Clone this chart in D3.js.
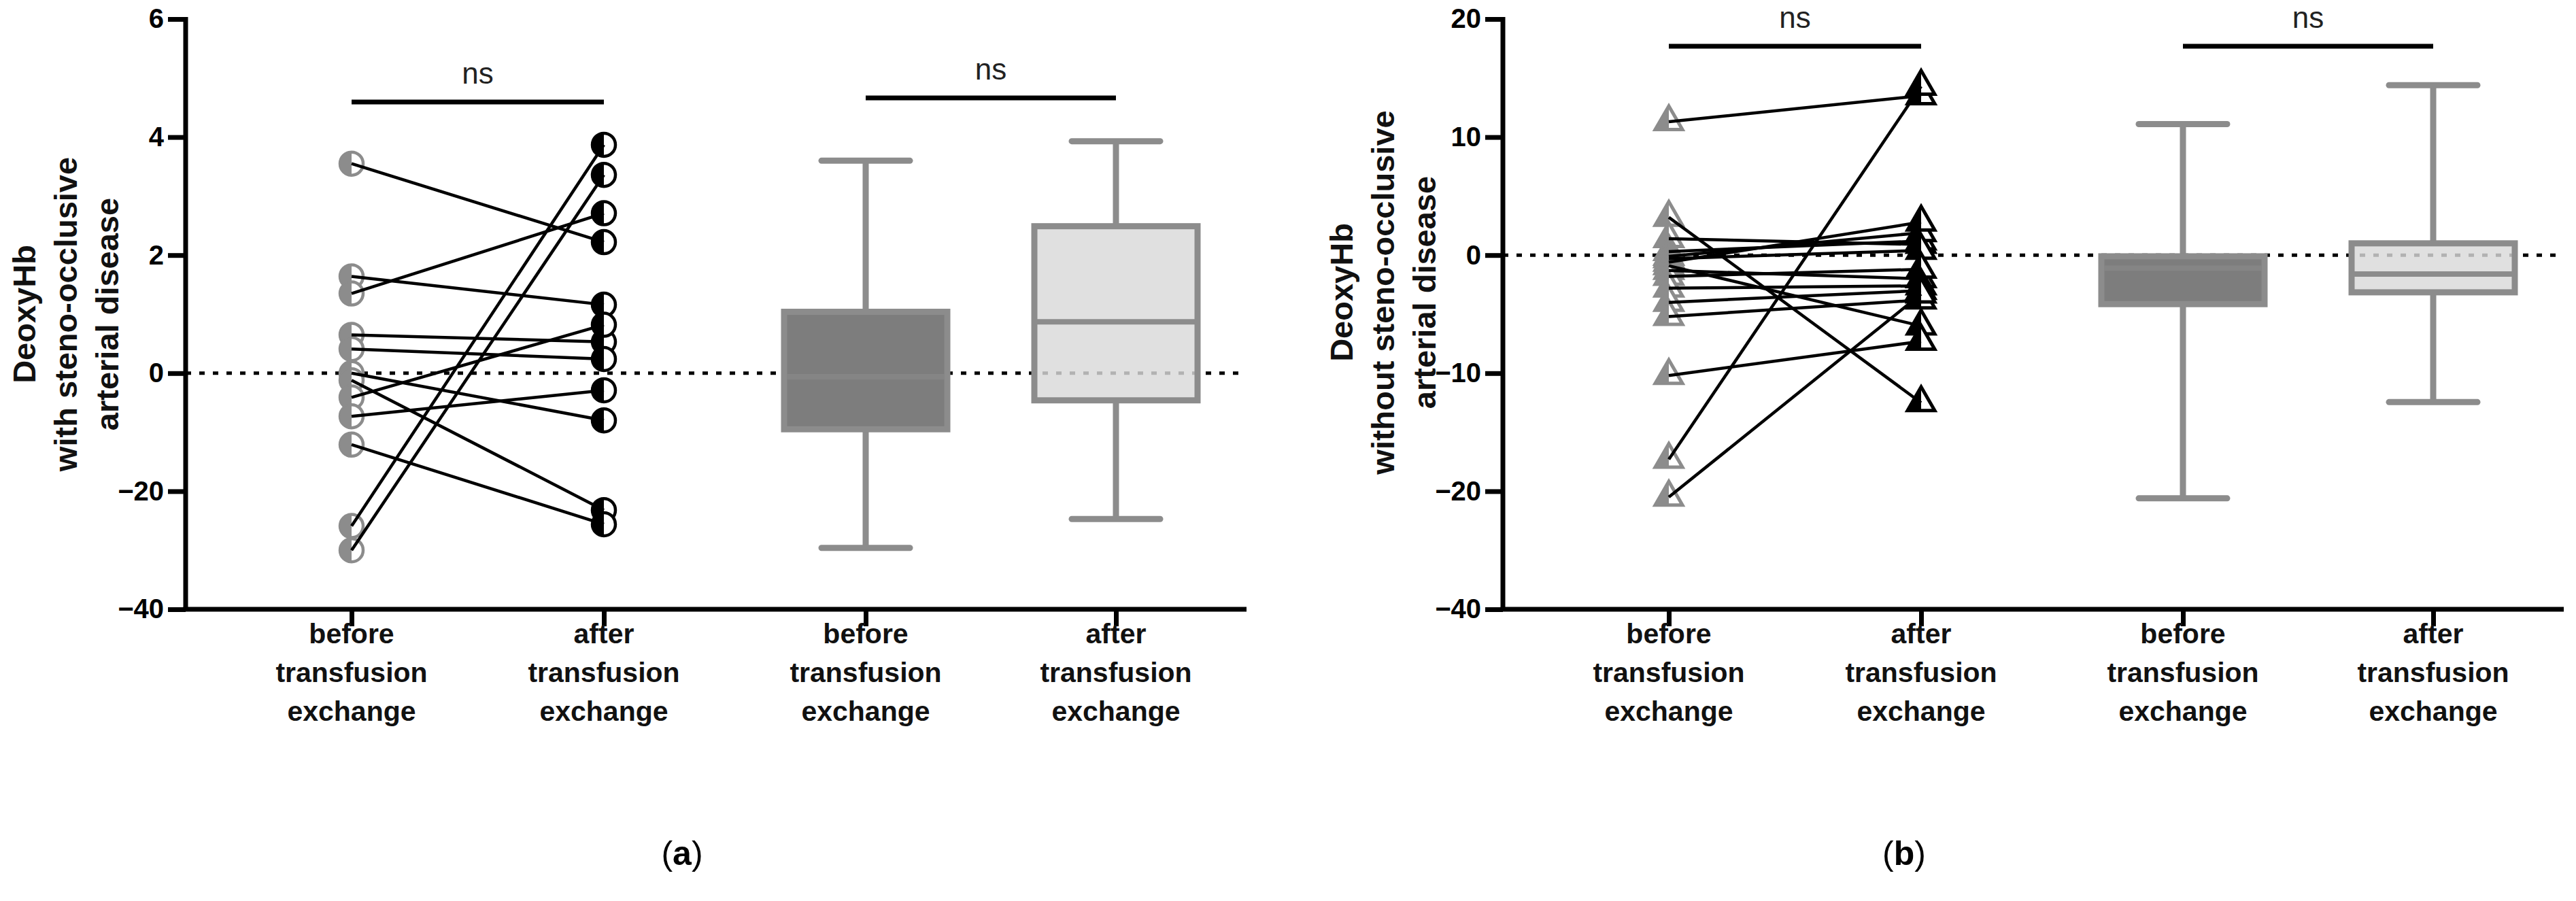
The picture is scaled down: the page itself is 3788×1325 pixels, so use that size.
<!DOCTYPE html>
<html><head><meta charset="utf-8">
<script src="https://cdn.jsdelivr.net/npm/d3@7"></script>
<style>
body{margin:0;background:#fff}
text{font-family:"Liberation Sans",Arial,Helvetica,sans-serif}
</style>
</head><body>
<svg id="chart" width="3788" height="1325"></svg>
<script>
// ---------------- data ----------------
const categories = ["before", "after", "boxBefore", "boxAfter"];
const categoryLabels = [
  ["before", "transfusion", "exchange"],
  ["after", "transfusion", "exchange"],
  ["before", "transfusion", "exchange"],
  ["after", "transfusion", "exchange"]
];
// panel (a): with steno-occlusive arterial disease (paired values)
const aBefore = [3.55, 1.64, 1.35, 0.65, 0.41, 0.0, -1.2, -4.1, -7.3, -12.1, -25.9, -30.0];
const aAfter  = [2.22, 1.16, 2.71, 0.53, 0.24, -8.0, -23.2, 0.82, -2.9, -25.6, 3.87, 3.36];
// box stats: [min, q1, median, q3, max]
const aBoxBefore = [-29.6, -9.5, -0.6, 1.04, 3.6];
const aBoxAfter  = [-24.7, -4.6, 0.87, 2.49, 3.93];
const aTicks = [6, 4, 2, 0, -20, -40];
const aYLabel = ["DeoxyHb", "with steno-occlusive", "arterial disease"];

// panel (b): without steno-occlusive arterial disease
const bBefore = [11.3, 3.2, 1.4, 0.3, -0.1, -0.3, -0.6, -0.9, -1.3, -1.8, -2.8, -4.0, -5.2, -10.2, -17.3, -21.0];
const bAfter  = [13.5, -12.5, 0.9, 1.2, 1.9, 0.4, 2.8, -6.0, -2.0, -1.2, -2.6, -3.0, -3.8, -7.3, 14.3, -3.3];
const bBoxBefore = [-21.2, -4.15, -1.1, -0.1, 11.1];
const bBoxAfter  = [-12.45, -3.15, -1.6, 1.0, 14.4];
const bTicks = [20, 10, 0, -10, -20, -40];
const bYLabel = ["DeoxyHb", "without steno-occlusive", "arterial disease"];

const sigText = "ns";
const panelTags = ["a", "b"];

// ---------------- layout ----------------
const W = 3788, H = 1325;
const yTop = 28, yBottom = 896;
const slotOffsets = [244, 615, 1000, 1368];
const axisLen = 1560;
const GRAY = "#8c8c8c", DARK = "#7d7d7d", LIGHT = "#d9d9d9";

const svg = d3.select("#chart");
svg.append("rect").attr("width", W).attr("height", H).attr("fill", "#fff");

function drawPanel(cfg) {
  const ox = cfg.axisX;
  const g = svg.append("g").attr("transform", `translate(${ox},0)`);

  // piecewise y scale: ticks equally spaced
  const asc = cfg.ticks.slice().sort((p, q) => p - q);
  const step = (yBottom - yTop) / (asc.length - 1);
  const y = d3.scaleLinear().domain(asc).range(asc.map((d, i) => yBottom - i * step));
  const x = d3.scaleOrdinal().domain(categories).range(slotOffsets);

  // zero dotted line
  g.append("line")
    .attr("x1", 0).attr("x2", axisLen)
    .attr("y1", y(0)).attr("y2", y(0))
    .attr("stroke", "#000").attr("stroke-width", 5)
    .attr("stroke-dasharray", "8,12");

  // box plots
  const boxW = 240, capW = 130;
  [[cfg.boxBefore, "boxBefore", DARK, 1, "#858585"], [cfg.boxAfter, "boxAfter", LIGHT, 0.82, GRAY]].forEach(([s, c, fill, op, medC]) => {
    const cx = x(c);
    const [mn, q1, md, q3, mx] = s;
    const bg = g.append("g").attr("stroke", GRAY).attr("stroke-width", 9);
    bg.append("line").attr("x1", cx).attr("x2", cx).attr("y1", y(mx)).attr("y2", y(q3));
    bg.append("line").attr("x1", cx).attr("x2", cx).attr("y1", y(q1)).attr("y2", y(mn));
    bg.append("line").attr("x1", cx - capW / 2).attr("x2", cx + capW / 2).attr("y1", y(mx)).attr("y2", y(mx)).attr("stroke-linecap", "round");
    bg.append("line").attr("x1", cx - capW / 2).attr("x2", cx + capW / 2).attr("y1", y(mn)).attr("y2", y(mn)).attr("stroke-linecap", "round");
    bg.append("rect").attr("x", cx - boxW / 2).attr("width", boxW)
      .attr("y", y(q3)).attr("height", y(q1) - y(q3))
      .attr("fill", fill).attr("fill-opacity", op);
    bg.append("line").attr("x1", cx - boxW / 2 + 4).attr("x2", cx + boxW / 2 - 4).attr("y1", y(md)).attr("y2", y(md))
      .attr("stroke", medC).attr("stroke-width", 8);
  });

  // markers
  const pairs = cfg.before.map((b, i) => [b, cfg.after[i]]);
  const r = 17;
  function marker(px, py, color) {
    if (cfg.shape === "circle") {
      g.append("circle").attr("cx", px).attr("cy", py).attr("r", r)
        .attr("fill", "#fff").attr("stroke", color).attr("stroke-width", 4.5);
      g.append("path").attr("d", `M${px},${py - r} A${r},${r} 0 0 0 ${px},${py + r} Z`).attr("fill", color);
    } else {
      const s = 40, h = s * 0.866;
      const t = [px, py - 2 * h / 3], bl = [px - s / 2, py + h / 3], br = [px + s / 2, py + h / 3];
      g.append("path").attr("d", `M${t}L${bl}L${br}Z`)
        .attr("fill", "#fff").attr("stroke", color).attr("stroke-width", 5).attr("stroke-linejoin", "miter");
      g.append("path").attr("d", `M${t}L${bl}L${px},${py + h / 3}Z`).attr("fill", color);
    }
  }
  pairs.forEach(p => marker(x("before"), y(p[0]), GRAY));
  pairs.forEach(p => marker(x("after"), y(p[1]), "#000"));
  const line = d3.line().x(d => x(d[0])).y(d => y(d[1]));
  g.append("g").selectAll("path").data(pairs).join("path")
    .attr("d", p => line([["before", p[0]], ["after", p[1]]]))
    .attr("fill", "none").attr("stroke", "#000").attr("stroke-width", 4.5);

  // significance bars
  [["before", "after"], ["boxBefore", "boxAfter"]].forEach(([c1, c2], k) => {
    const by = cfg.sigY[k];
    g.append("line").attr("x1", x(c1)).attr("x2", x(c2)).attr("y1", by).attr("y2", by)
      .attr("stroke", "#000").attr("stroke-width", 7);
    g.append("text").attr("x", (x(c1) + x(c2)) / 2).attr("y", by - 27)
      .attr("text-anchor", "middle").attr("font-size", 44).attr("fill", "#222").text(sigText);
  });

  // y axis
  const ya = g.append("g").call(d3.axisLeft(y).tickValues(cfg.ticks).tickSize(26).tickSizeOuter(0).tickPadding(6));
  ya.select(".domain").attr("stroke-width", 7).attr("d", `M0,${yTop - 3}V${yBottom}`);
  ya.selectAll(".tick line").attr("stroke-width", 7);
  ya.selectAll(".tick text").attr("font-size", 40).attr("font-weight", "bold")
    .attr("font-family", '"Liberation Sans",Arial,sans-serif').attr("fill", "#000");

  // x axis
  const xa = g.append("g").attr("transform", `translate(0,${yBottom})`)
    .call(d3.axisBottom(x).tickSize(25).tickSizeOuter(0).tickFormat(() => ""));
  xa.select(".domain").attr("stroke-width", 7).attr("d", `M-3.5,0H${axisLen}`);
  xa.selectAll(".tick line").attr("stroke-width", 7);
  categories.forEach((c, i) => {
    const t = g.append("text").attr("text-anchor", "middle").attr("font-size", 41)
      .attr("font-weight", "bold").attr("fill", "#111");
    categoryLabels[i].forEach((s, j) => {
      t.append("tspan").attr("x", x(c)).attr("y", 946 + j * 57).text(s);
    });
  });

  // y label (rotated)
  const yl = g.append("text").attr("transform", `translate(${cfg.ylabX},${cfg.ylabY}) rotate(-90)`)
    .attr("text-anchor", "middle").attr("font-size", 47).attr("font-weight", "bold").attr("fill", "#111");
  cfg.ylabel.forEach((s, j) => {
    yl.append("tspan").attr("x", 0).attr("y", j * 61).text(s);
  });

  // panel tag
  const tg = svg.append("text").attr("x", cfg.tagX).attr("y", 1272).attr("text-anchor", "middle")
    .attr("font-size", 50).attr("font-family", '"Liberation Serif","Times New Roman",serif').attr("fill", "#000");
  tg.append("tspan").text("(");
  tg.append("tspan").attr("font-weight", "bold").text(cfg.tag);
  tg.append("tspan").text(")");
}

drawPanel({
  axisX: 273, ticks: aTicks, before: aBefore, after: aAfter,
  boxBefore: aBoxBefore, boxAfter: aBoxAfter, ylabel: aYLabel, shape: "circle",
  sigY: [150, 144], ylabX: -221, ylabY: 462, tag: panelTags[0], tagX: 1003
});
drawPanel({
  axisX: 2210, ticks: bTicks, before: bBefore, after: bAfter,
  boxBefore: bBoxBefore, boxAfter: bBoxAfter, ylabel: bYLabel, shape: "triangle",
  sigY: [68, 68], ylabX: -221, ylabY: 430, tag: panelTags[1], tagX: 2800
});
</script>
</body></html>
